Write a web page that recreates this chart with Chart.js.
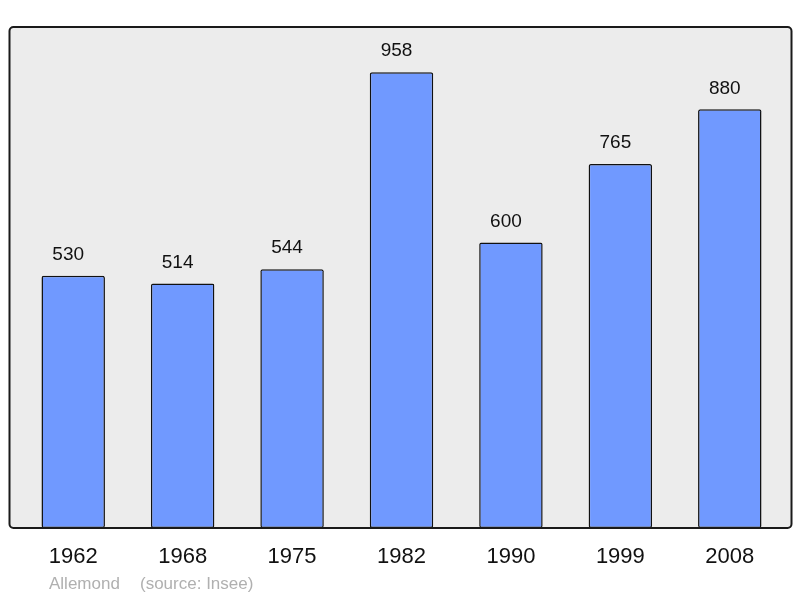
<!DOCTYPE html>
<html>
<head>
<meta charset="utf-8">
<script src="https://cdn.jsdelivr.net/npm/chart.js@4.4.1/dist/chart.umd.min.js"></script>
<style>
  html, body { margin: 0; padding: 0; background: #fff; }
  #wrap { width: 800px; height: 598px; }
</style>
</head>
<body>
<div id="wrap"><canvas id="chart" width="800" height="598"></canvas></div>
<script>
const YEARS = ['1962', '1968', '1975', '1982', '1990', '1999', '2008'];
const POPULATION = [530, 514, 544, 958, 600, 765, 880];
const TOWN = 'Allemond';
const SOURCE = '(source: Insee)';

// frame behind the plot + value labels + footer
const decor = {
  id: 'decor',
  beforeDatasetsDraw(chart) {
    const { ctx, chartArea: a } = chart;
    const x = a.left - 9, y = a.top, w = a.right - a.left + 16, h = a.bottom - a.top;
    ctx.save();
    ctx.beginPath();
    ctx.roundRect(x, y, w, h, 4);
    ctx.fillStyle = '#ececec';
    ctx.fill();
    ctx.restore();
  },
  afterDatasetsDraw(chart) {
    const { ctx, chartArea: a } = chart;
    const x = a.left - 9, y = a.top, w = a.right - a.left + 16, h = a.bottom - a.top;
    ctx.save();
    ctx.beginPath();
    ctx.roundRect(x, y, w, h, 4);
    ctx.lineWidth = 2;
    ctx.strokeStyle = '#1a1a1a';
    ctx.stroke();

    ctx.fillStyle = '#111';
    ctx.font = '19px "Liberation Sans", Arial, sans-serif';
    ctx.textAlign = 'center';
    ctx.textBaseline = 'middle';
    chart.getDatasetMeta(0).data.forEach((bar, i) => {
      ctx.fillText(String(POPULATION[i]), bar.x - 5, bar.y - 21);
    });

    ctx.fillStyle = '#b0b0b0';
    ctx.font = '17px "Liberation Sans", Arial, sans-serif';
    ctx.textAlign = 'left';
    ctx.fillText(TOWN, 49, 584);
    ctx.fillText(SOURCE, 140, 584);
    ctx.restore();
  }
};

new Chart(document.getElementById('chart'), {
  type: 'bar',
  data: {
    labels: YEARS,
    datasets: [{
      data: POPULATION,
      backgroundColor: '#7099ff',
      borderColor: '#111',
      borderWidth: 1.5,
      borderRadius: 2,
      borderSkipped: false,
      barPercentage: 0.58,
      categoryPercentage: 1
    }]
  },
  options: {
    responsive: false,
    animation: false,
    layout: { padding: { left: 18.5, right: 15.5, top: 27, bottom: 0 } },
    plugins: { legend: { display: false }, tooltip: { enabled: false } },
    scales: {
      y: { display: false, min: 0, max: 1053 },
      x: {
        grid: { display: false, drawTicks: false },
        border: { display: false },
        ticks: { color: '#111', padding: 16, font: { family: '"Liberation Sans", Arial', size: 22 } },
        afterFit(scale) { scale.height = 70; }
      }
    }
  },
  plugins: [decor]
});
</script>
</body>
</html>
